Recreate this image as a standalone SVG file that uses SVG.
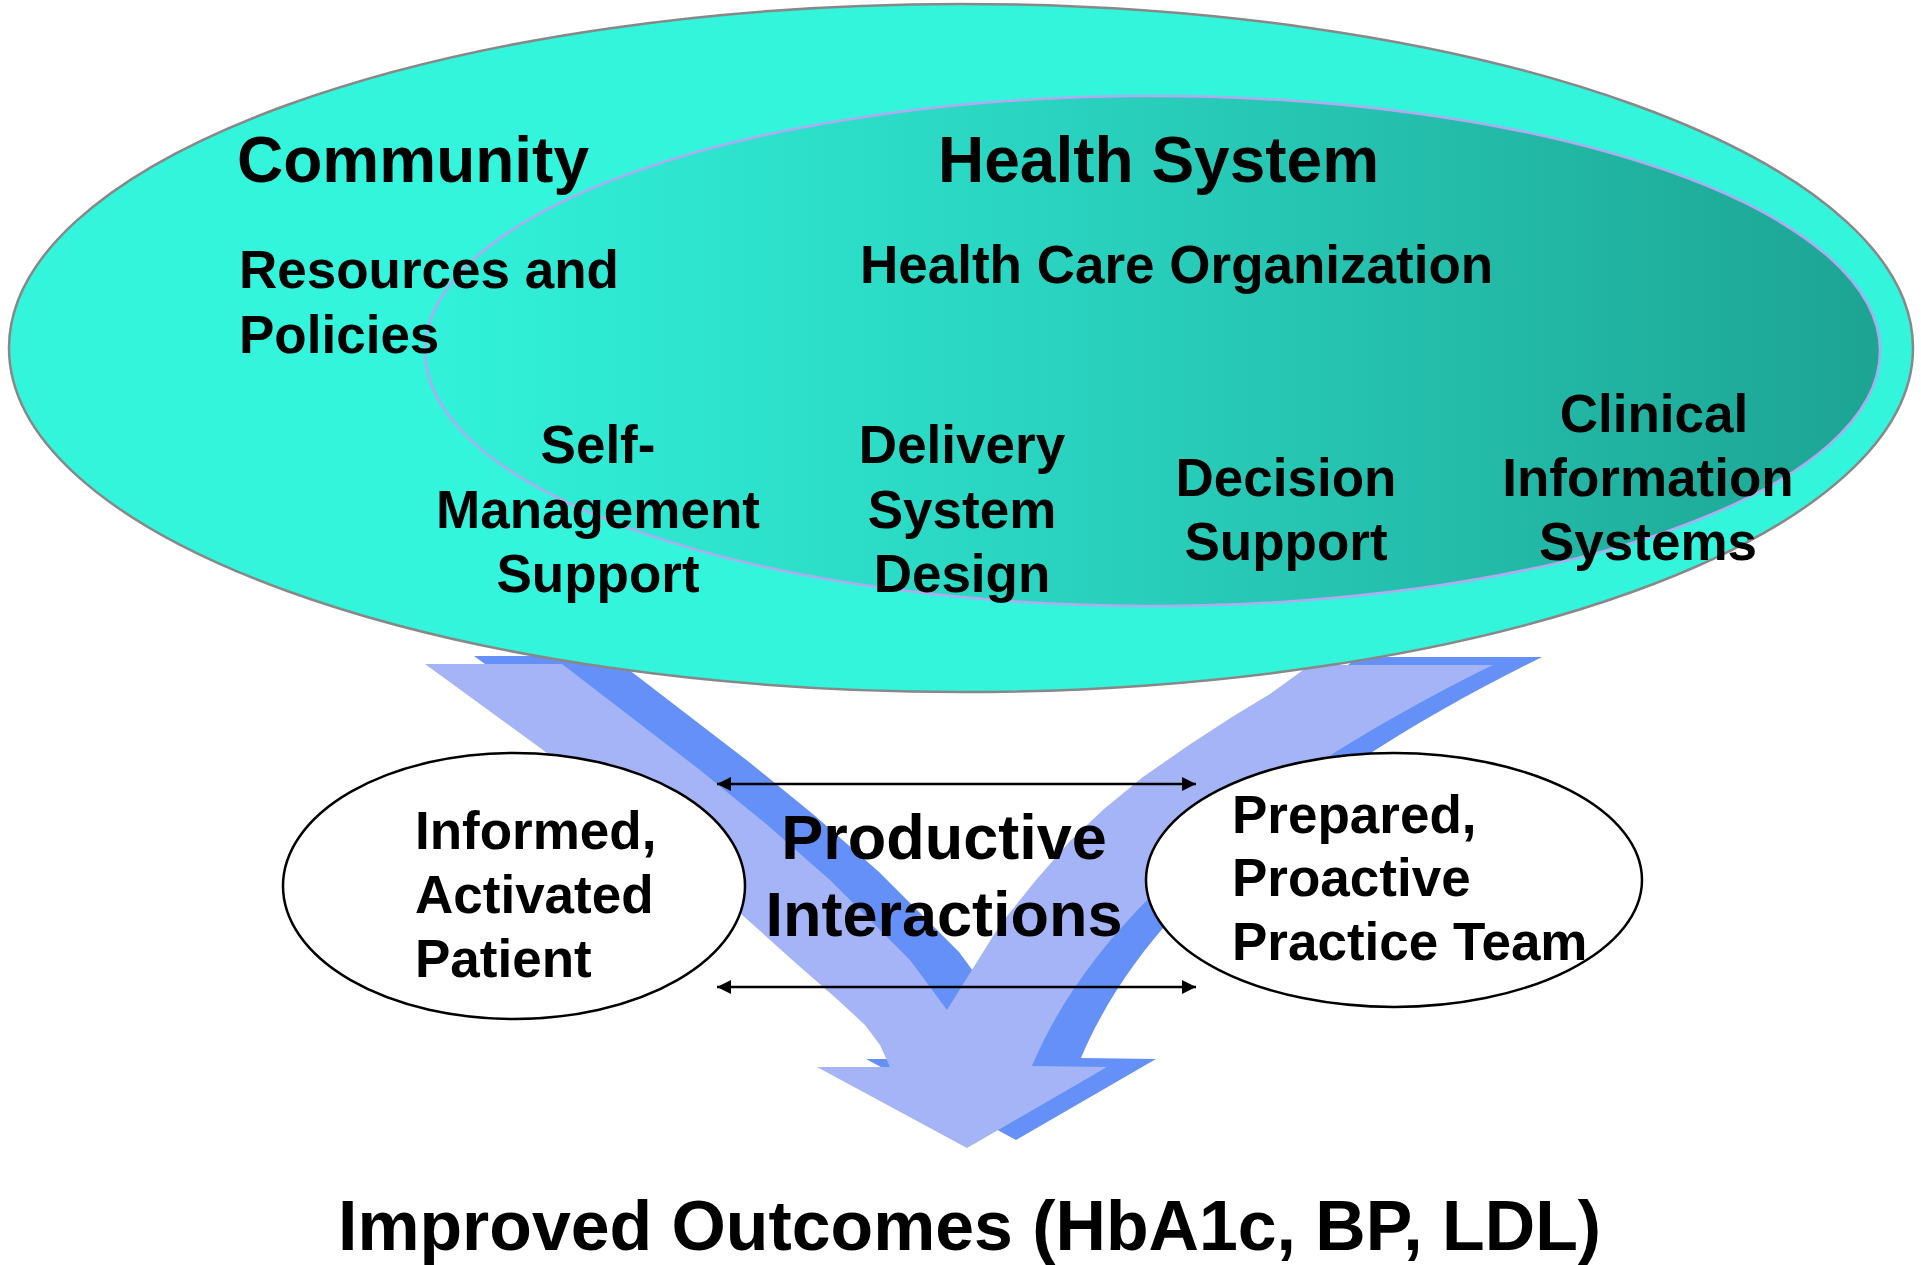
<svg xmlns="http://www.w3.org/2000/svg" width="1921" height="1265" viewBox="0 0 1921 1265">
  <style>
    text { font-family: "Liberation Sans", Arial, Helvetica, sans-serif; font-weight: bold; fill: #000; }
    .h1 { font-size: 64px; }
    .h2 { font-size: 53px; }
    .mid { text-anchor: middle; }
    .pi { font-size: 63px; text-anchor: middle; }
    .out { font-size: 69.8px; }
    .conn { stroke: #000; stroke-width: 2.5; fill: none; marker-start: url(#tri); marker-end: url(#tri); }
    .node { fill: #fff; stroke: #000; stroke-width: 2.5; }
  </style>
  <defs>
    <linearGradient id="hsGrad" x1="0" y1="0" x2="1" y2="0">
      <stop offset="0" stop-color="#31F2DA"/>
      <stop offset="0.45" stop-color="#29D2BE"/>
      <stop offset="1" stop-color="#1DA493"/>
    </linearGradient>
    <marker id="tri" viewBox="0 0 14 14" refX="14" refY="7" markerWidth="14" markerHeight="14" markerUnits="userSpaceOnUse" orient="auto-start-reverse">
      <path d="M0,0 L14,7 L0,14 Z" fill="#000"/>
    </marker>
    <path id="vshape" d="M425,664 L562,664 L700,770 L765,823 L830,880 L870,920 L910,960 L947,1010 L975,965 L1000,925 L1036,880 L1071,840 L1104,809 L1143,777 L1189,745 L1232,717 L1270,694 L1310,665 L1493,665 C1330,745 1110,880 1032,1066 L1107,1067 L967,1148 L817,1067 L890,1067 L880,1045 L865,1025 L838,1000 L790,958 L740,913 L640,832 L543,750 Z"/>
  </defs>

  <g id="flow-arrow">
    <use href="#vshape" fill="#6490F8" transform="translate(49,-8)"/>
    <use href="#vshape" fill="#A4B4F6"/>
  </g>

  <g id="community">
    <ellipse cx="961" cy="348" rx="952" ry="344" fill="#32F5DC" stroke="#888888" stroke-width="2.5"/>
  </g>

  <g id="health-system">
    <ellipse cx="1152.5" cy="351" rx="727.5" ry="255" fill="url(#hsGrad)" stroke="#B4A8F2" stroke-width="2.5"/>
    <text class="h1" x="938" y="182">Health System</text>
    <text class="h2" x="860" y="283">Health Care Organization</text>
  </g>

  <g id="community-labels">
    <text class="h1" x="237" y="182">Community</text>
    <text class="h2" x="239" y="288">Resources and</text>
    <text class="h2" x="239" y="353">Policies</text>
  </g>

  <g id="self-management-support">
    <text class="h2 mid" x="598" y="463">Self-</text>
    <text class="h2 mid" x="598" y="528">Management</text>
    <text class="h2 mid" x="598" y="592">Support</text>
  </g>

  <g id="delivery-system-design">
    <text class="h2 mid" x="962" y="463">Delivery</text>
    <text class="h2 mid" x="962" y="528">System</text>
    <text class="h2 mid" x="962" y="592">Design</text>
  </g>

  <g id="decision-support">
    <text class="h2 mid" x="1286" y="496">Decision</text>
    <text class="h2 mid" x="1286" y="560">Support</text>
  </g>

  <g id="clinical-information-systems">
    <text class="h2 mid" x="1654" y="432">Clinical</text>
    <text class="h2 mid" x="1648" y="496">Information</text>
    <text class="h2 mid" x="1648" y="560">Systems</text>
  </g>

  <g id="patient">
    <ellipse class="node" cx="514" cy="886" rx="231" ry="133"/>
    <text class="h2" x="415" y="849">Informed,</text>
    <text class="h2" x="415" y="913">Activated</text>
    <text class="h2" x="415" y="977">Patient</text>
  </g>

  <g id="practice-team">
    <ellipse class="node" cx="1394" cy="880" rx="248" ry="127"/>
    <text class="h2" x="1232" y="833">Prepared,</text>
    <text class="h2" x="1232" y="896">Proactive</text>
    <text class="h2" x="1232" y="960">Practice Team</text>
  </g>

  <g id="connectors">
    <line class="conn" x1="717" y1="784" x2="1196" y2="784"/>
    <line class="conn" x1="717" y1="987" x2="1196" y2="987"/>
  </g>

  <g id="productive-interactions">
    <text class="pi" x="944" y="859">Productive</text>
    <text class="pi" x="944" y="936">Interactions</text>
  </g>

  <g id="outcomes">
    <text class="out" x="338" y="1250">Improved Outcomes (HbA1c, BP, LDL)</text>
  </g>
</svg>
